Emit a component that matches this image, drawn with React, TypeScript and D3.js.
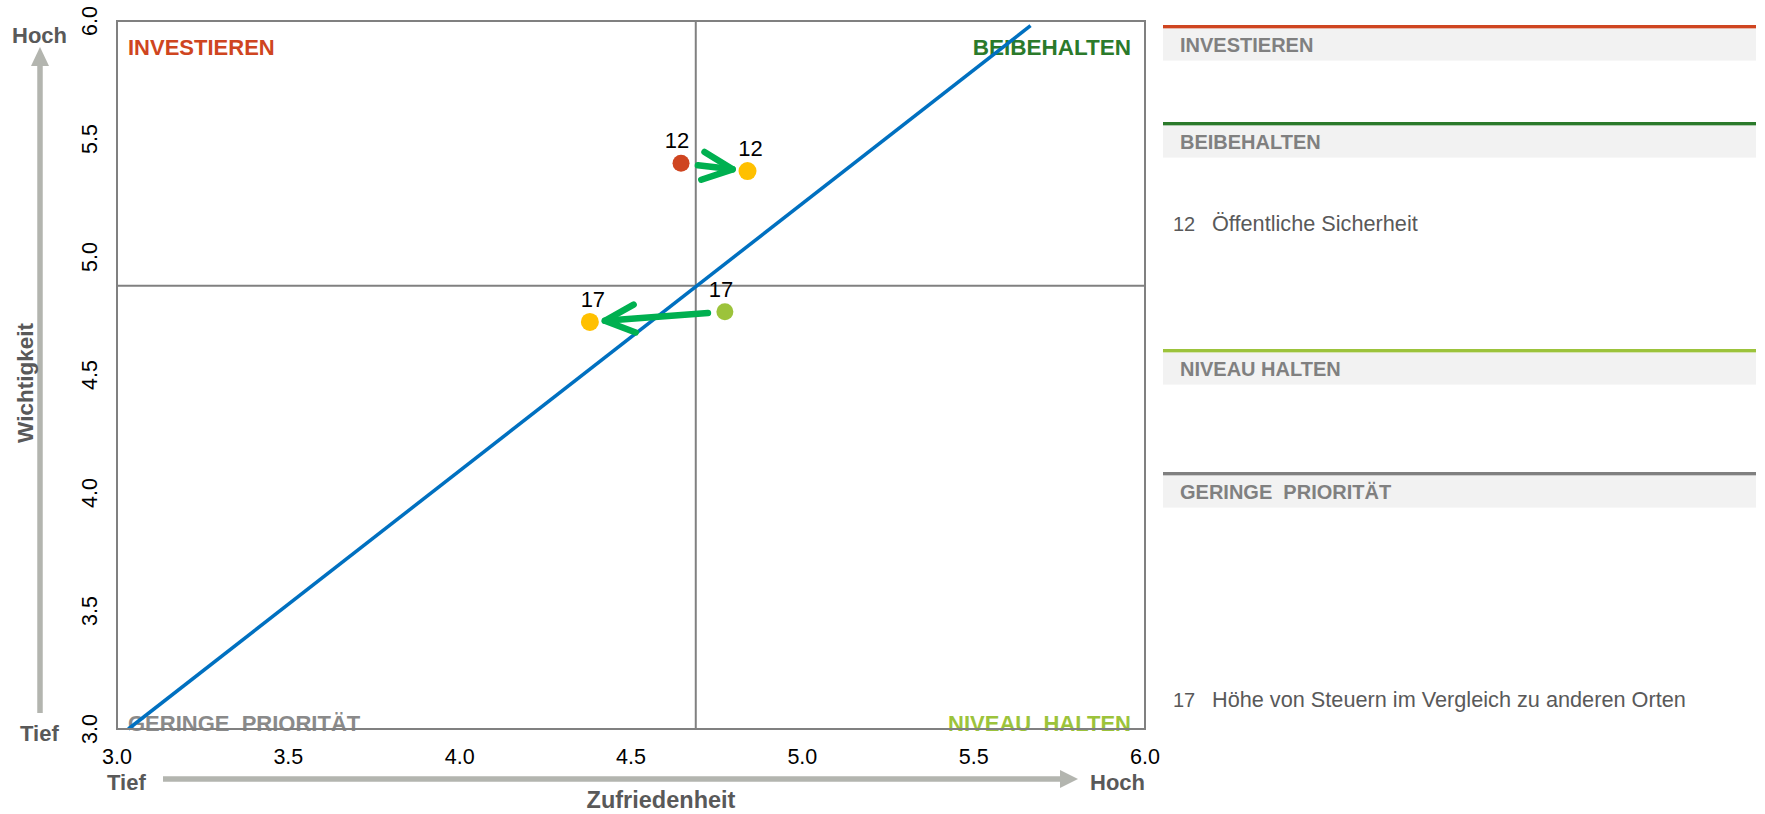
import React from "react";
import * as d3 from "d3";

// ---------- data ----------
const quadrantNames = ["INVESTIEREN", "BEIBEHALTEN", "NIVEAU  HALTEN", "GERINGE  PRIORITÄT"];
const legendHeaders = ["INVESTIEREN", "BEIBEHALTEN", "NIVEAU HALTEN", "GERINGE  PRIORITÄT"];
const quadrantColors = ["#cf4520", "#2b7a2b", "#9cc33b", "#8a8a8a"];

const itemIds = ["12", "17"];
const itemNames = ["Öffentliche Sicherheit", "Höhe von Steuern im Vergleich zu anderen Orten"];
const prevSatisfaction = [4.646, 4.774];
const prevImportance = [5.397, 4.768];
const currSatisfaction = [4.84, 4.38];
const currImportance = [5.364, 4.725];

const xTicks = [3.0, 3.5, 4.0, 4.5, 5.0, 5.5, 6.0];
const yTicks = [3.0, 3.5, 4.0, 4.5, 5.0, 5.5, 6.0];

const meanSatisfaction = 4.689;
const meanImportance = 4.878;
const diagonalX = [3.033, 5.666];
const diagonalY = [3.0, 5.98];

// ---------- layout ----------
const W = 1765;
const H = 814;
const PL = 117, PR = 1145, PT = 21, PB = 729;
const FONT = "Liberation Sans, Arial, Helvetica, sans-serif";

function quadrantIndex(s: number, i: number) {
  if (i >= meanImportance) return s < meanSatisfaction ? 0 : 1;
  return s >= meanSatisfaction ? 2 : 3;
}

export default function App() {
  const x = d3.scaleLinear().domain([3, 6]).range([PL, PR]);
  const y = d3.scaleLinear().domain([3, 6]).range([PB, PT]);
  const fmt = d3.format(".1f");

  const diag = d3.line<number>()
    .x((_, k) => x(diagonalX[k]))
    .y((_, k) => y(diagonalY[k]));

  const arrows = itemIds.map((id, k) => {
    const x0 = x(prevSatisfaction[k]), y0 = y(prevImportance[k]);
    const x1 = x(currSatisfaction[k]), y1 = y(currImportance[k]);
    const dx = x1 - x0, dy = y1 - y0;
    const len = Math.hypot(dx, dy);
    const ux = dx / len, uy = dy / len;
    const sx = x0 + ux * 17, sy = y0 + uy * 17;
    const ex = x1 - ux * 15, ey = y1 - uy * 15;
    const ang = Math.atan2(-uy, -ux);
    const a = 25 * Math.PI / 180;
    const L = 33;
    const h1 = [ex + L * Math.cos(ang + a), ey + L * Math.sin(ang + a)];
    const h2 = [ex + L * Math.cos(ang - a), ey + L * Math.sin(ang - a)];
    return { id, sx, sy, ex, ey, h1, h2 };
  });

  const legendX0 = 1163, legendX1 = 1756;
  const headerTops = [25, 122, 349, 472];
  const itemBaselines: Record<number, number> = { 1: 231, 3: 707 };

  const legendItems = itemIds.map((id, k) => ({
    id,
    name: itemNames[k],
    q: quadrantIndex(currSatisfaction[k], currImportance[k]),
  }));

  return (
    <svg width={W} height={H} style={{ position: "absolute", left: 0, top: 0, background: "#fff" }} fontFamily={FONT}>
      {/* quadrant labels */}
      <text x={128} y={55} fontSize={22} fontWeight="bold" fill={quadrantColors[0]}>{quadrantNames[0]}</text>
      <text x={1131} y={55} fontSize={22.5} fontWeight="bold" fill={quadrantColors[1]} textAnchor="end">{quadrantNames[1]}</text>
      <text x={1131} y={731} fontSize={22} fontWeight="bold" fill={quadrantColors[2]} textAnchor="end" style={{ whiteSpace: "pre" }}>{quadrantNames[2]}</text>
      <text x={128} y={731} fontSize={22} fontWeight="bold" fill={quadrantColors[3]} style={{ whiteSpace: "pre" }}>{quadrantNames[3]}</text>

      {/* crosshair */}
      <line x1={x(meanSatisfaction)} x2={x(meanSatisfaction)} y1={PT} y2={PB} stroke="#808080" strokeWidth={2} />
      <line x1={PL} x2={PR} y1={y(meanImportance)} y2={y(meanImportance)} stroke="#808080" strokeWidth={2} />

      {/* diagonal */}
      <path d={diag([0, 1]) || ""} stroke="#0070c0" strokeWidth={3.5} fill="none" />

      {/* plot border */}
      <rect x={PL} y={PT} width={PR - PL} height={PB - PT} fill="none" stroke="#808080" strokeWidth={2} />

      {/* arrows */}
      {arrows.map((a) => (
        <g key={a.id} stroke="#00b050" strokeWidth={6.5} fill="none" strokeLinecap="round" strokeLinejoin="round">
          <line x1={a.sx} y1={a.sy} x2={a.ex} y2={a.ey} />
          <polyline points={`${a.h1[0]},${a.h1[1]} ${a.ex},${a.ey} ${a.h2[0]},${a.h2[1]}`} />
        </g>
      ))}

      {/* points */}
      {itemIds.map((id, k) => {
        const px = x(prevSatisfaction[k]), py = y(prevImportance[k]);
        const cx = x(currSatisfaction[k]), cy = y(currImportance[k]);
        const q = quadrantIndex(prevSatisfaction[k], prevImportance[k]);
        return (
          <g key={id}>
            <circle cx={px} cy={py} r={8.5} fill={quadrantColors[q]} />
            <circle cx={cx} cy={cy} r={9} fill="#ffc000" />
            <text x={px - 4} y={py - 15} fontSize={22} textAnchor="middle" fill="#000">{id}</text>
            <text x={cx + 3} y={cy - 15} fontSize={22} textAnchor="middle" fill="#000">{id}</text>
          </g>
        );
      })}

      {/* x ticks */}
      {xTicks.map((t) => (
        <text key={"x" + t} x={x(t)} y={764} fontSize={21.5} textAnchor="middle" fill="#000">{fmt(t)}</text>
      ))}
      {/* y ticks */}
      {yTicks.map((t) => (
        <text key={"y" + t} transform={`translate(97,${y(t)}) rotate(-90)`} fontSize={21.5} textAnchor="middle" fill="#000">{fmt(t)}</text>
      ))}

      {/* axis arrows */}
      <line x1={40} x2={40} y1={713} y2={62} stroke="#b3b5af" strokeWidth={5.5} />
      <polygon points={`40,47 31,66 49,66`} fill="#b3b5af" />
      <line x1={163} x2={1063} y1={779} y2={779} stroke="#b3b5af" strokeWidth={5.5} />
      <polygon points={`1078,779 1060,770 1060,788`} fill="#b3b5af" />

      {/* axis words */}
      <text x={12} y={43} fontSize={22} fontWeight="bold" fill="#595959">Hoch</text>
      <text x={20} y={741} fontSize={22} fontWeight="bold" fill="#595959">Tief</text>
      <text x={107} y={790} fontSize={22} fontWeight="bold" fill="#595959">Tief</text>
      <text x={1090} y={790} fontSize={22} fontWeight="bold" fill="#595959">Hoch</text>
      <text x={661} y={808} fontSize={23.5} fontWeight="bold" fill="#595959" textAnchor="middle">Zufriedenheit</text>
      <text transform={`translate(33,383) rotate(-90)`} fontSize={22.5} fontWeight="bold" fill="#595959" textAnchor="middle">Wichtigkeit</text>

      {/* legend */}
      {legendHeaders.map((h, k) => (
        <g key={h}>
          <rect x={legendX0} y={headerTops[k]} width={legendX1 - legendX0} height={3.6} fill={k === 3 ? "#808080" : quadrantColors[k]} />
          <rect x={legendX0} y={headerTops[k] + 3.6} width={legendX1 - legendX0} height={32} fill="#f2f2f2" />
          <text x={1180} y={headerTops[k] + 27} fontSize={20} fontWeight="bold" fill="#808080" style={{ whiteSpace: "pre" }}>{h}</text>
        </g>
      ))}
      {legendItems.map((it) => (
        <g key={it.id}>
          <text x={1173} y={itemBaselines[it.q]} fontSize={20} fill="#595959">{it.id}</text>
          <text x={1212} y={itemBaselines[it.q]} fontSize={21.7} fill="#595959">{it.name}</text>
        </g>
      ))}
    </svg>
  );
}
